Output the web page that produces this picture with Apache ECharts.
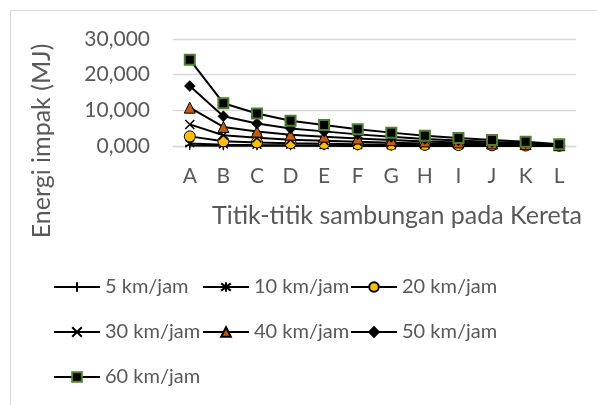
<!DOCTYPE html>
<html>
<head>
<meta charset="utf-8">
<script src="https://cdn.jsdelivr.net/npm/echarts@6/dist/echarts.min.js"></script>
<style>
  html, body { margin: 0; padding: 0; background: #fff; }
  #chart { width: 597px; height: 405px; }
</style>
</head>
<body>
<div id="chart"></div>
<script>
// Joint points along the train
const categories = ['A', 'B', 'C', 'D', 'E', 'F', 'G', 'H', 'I', 'J', 'K', 'L'];

// Impact energy (MJ) per joint, one list per speed
const v5  = [0.17, 0.08, 0.06, 0.05, 0.04, 0.03, 0.03, 0.02, 0.02, 0.01, 0.01, 0.00];
const v10 = [0.67, 0.33, 0.25, 0.20, 0.16, 0.13, 0.10, 0.08, 0.06, 0.05, 0.03, 0.01];
const v20 = [2.70, 1.33, 1.01, 0.79, 0.66, 0.52, 0.42, 0.32, 0.25, 0.18, 0.13, 0.06];
const v30 = [6.05, 3.00, 2.28, 1.78, 1.48, 1.18, 0.94, 0.71, 0.56, 0.41, 0.30, 0.13];
const v40 = [10.75, 5.33, 4.04, 3.16, 2.62, 2.09, 1.67, 1.27, 1.00, 0.73, 0.53, 0.22];
const v50 = [16.80, 8.33, 6.32, 4.93, 4.10, 3.26, 2.60, 1.98, 1.56, 1.15, 0.83, 0.35];
const v60 = [24.20, 12.00, 9.10, 7.10, 5.90, 4.70, 3.75, 2.85, 2.25, 1.65, 1.20, 0.50];

const yTicks = { min: 0, max: 30, interval: 10 };

const FONT = 'Lato';
const TEXT = '#595959';
const GRID = '#d9d9d9';

const PLUS = 'path://M5,0L5,10M0,5L10,5';
const STAR = 'path://M5,0L5,10M1.2,1.2L8.8,8.8M1.2,8.8L8.8,1.2';
const CROSS = 'path://M0,0L10,10M0,10L10,0';

function line(name, data, symbol, size, itemStyle) {
  return {
    name, type: 'line', data,
    symbol, symbolSize: size,
    lineStyle: { color: '#000', width: 2 },
    itemStyle,
    emphasis: { disabled: true },
    animation: false
  };
}

const series = [
  line('5 km/jam', v5, PLUS, 9, { color: '#000', borderColor: '#000', borderWidth: 1.2 }),
  line('10 km/jam', v10, STAR, 9, { color: '#000', borderColor: '#000', borderWidth: 1.5 }),
  line('20 km/jam', v20, 'circle', 11, { color: '#FFC000', borderColor: '#000', borderWidth: 1 }),
  line('30 km/jam', v30, CROSS, 9, { color: '#000', borderColor: '#000', borderWidth: 1.5 }),
  line('40 km/jam', v40, 'triangle', 11, { color: '#C55A11', borderColor: '#000', borderWidth: 1 }),
  line('50 km/jam', v50, 'diamond', 11, { color: '#000', borderColor: '#000', borderWidth: 0.5 }),
  line('60 km/jam', v60, 'rect', 10, { color: '#000', borderColor: '#507E32', borderWidth: 2 })
];

function legendCol(left, names) {
  return {
    orient: 'vertical', left, top: 275, padding: 0,
    data: names,
    itemWidth: 46, itemHeight: 12, itemGap: 21,
    textStyle: { fontFamily: FONT, fontSize: 20, color: TEXT, lineHeight: 24 },
    selectedMode: false
  };
}

const chart = echarts.init(document.getElementById('chart'), null, { renderer: 'canvas' });
chart.setOption({
  animation: false,
  grid: { left: 173, right: 21, top: 39, bottom: 259, containLabel: false },
  xAxis: {
    type: 'category', data: categories, boundaryGap: true,
    axisLine: { lineStyle: { color: GRID, width: 1.3 } },
    axisTick: { show: false },
    axisLabel: { fontFamily: FONT, fontSize: 21, color: TEXT, margin: 20 }
  },
  yAxis: {
    type: 'value', min: yTicks.min, max: yTicks.max, interval: yTicks.interval,
    axisLine: { show: false }, axisTick: { show: false },
    splitLine: { lineStyle: { color: GRID, width: 1.3 } },
    axisLabel: {
      fontFamily: FONT, fontSize: 21, color: TEXT, margin: 23,
      formatter: v => v.toFixed(3).replace('.', ',')
    }
  },
  legend: [
    legendCol(53, ['5 km/jam', '30 km/jam', '60 km/jam']),
    legendCol(202, ['10 km/jam', '40 km/jam']),
    legendCol(350, ['20 km/jam', '50 km/jam'])
  ],
  graphic: [
    {
      type: 'rect', silent: true,
      shape: { x: 10.5, y: 10.5, width: 800, height: 600 },
      style: { fill: 'none', stroke: GRID, lineWidth: 1 }
    },
    {
      type: 'text', silent: true,
      x: 42, y: 141, rotation: Math.PI / 2,
      style: {
        text: 'Energi impak (MJ)', font: '25px ' + FONT, fill: TEXT,
        align: 'center', verticalAlign: 'middle'
      }
    },
    {
      type: 'text', silent: true,
      x: 397, y: 216,
      style: {
        text: 'Titik-titik sambungan pada Kereta', font: '25px ' + FONT, fill: TEXT,
        align: 'center', verticalAlign: 'middle'
      }
    }
  ],
  series
});
</script>
</body>
</html>
